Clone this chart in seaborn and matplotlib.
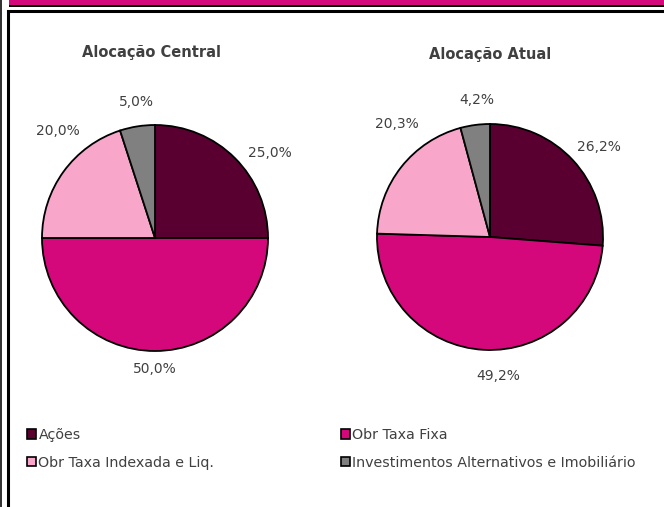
import matplotlib
matplotlib.use("Agg")
import matplotlib.pyplot as plt
import matplotlib.patches as mpatches
import seaborn as sns
import numpy as np

categories = ["Ações", "Obr Taxa Fixa", "Obr Taxa Indexada e Liq.", "Investimentos Alternativos e Imobiliário"]
central_values = [25.0, 50.0, 20.0, 5.0]
atual_values = [26.2, 49.2, 20.3, 4.2]
titles = ["Alocação Central", "Alocação Atual"]
colors = ["#5a0030", "#d4087a", "#f8a7cb", "#808080"]

# label placement (in pie-radius units), as laid out in the reference
central_label_pos = [(1.02, 0.75), (0.0, -1.16), (-0.86, 0.95), (-0.16, 1.20)]
atual_label_pos = [(0.96, 0.80), (0.07, -1.23), (-0.82, 1.00), (-0.12, 1.21)]

sns.set_theme(style="white")
plt.rcParams['font.family'] = ['DejaVu Sans']

W, H = 664, 507
fig = plt.figure(figsize=(W / 100, H / 100), dpi=100)
fig.patch.set_facecolor("white")

def px(x, y):
    return x / W, 1 - y / H

# frame decorations
fig.patches.append(mpatches.Rectangle((9 / W, 1 - 5 / H), 1, 5 / H, transform=fig.transFigure,
                                      facecolor="#d4087a", edgecolor="none"))
fig.patches.append(mpatches.Rectangle((9 / W, 1 - 7 / H), 1, 2 / H, transform=fig.transFigure,
                                      facecolor="black", edgecolor="none"))
fig.patches.append(mpatches.Rectangle((8 / W, -0.1), 1.2, 1 - 11 / H + 0.1, transform=fig.transFigure,
                                      facecolor="none", edgecolor="black", linewidth=2.2))
fig.patches.append(mpatches.Rectangle((0, 0), 1.5 / W, 1, transform=fig.transFigure,
                                      facecolor="#333333", edgecolor="none"))

text_color = "#404040"
half = 1.3
R = 113
size = 2 * half * R
centers = [(155, 238), (490, 237)]
title_pos = [(152, 53), (490, 55)]

for vals, (cx, cy), title, tp, lpos in zip([central_values, atual_values], centers, titles,
                                           title_pos, [central_label_pos, atual_label_pos]):
    ax = fig.add_axes([(cx - size / 2) / W, (H - cy - size / 2) / H, size / W, size / H])
    wedges, texts, autotexts = ax.pie(
        vals, colors=colors, startangle=90, counterclock=False,
        wedgeprops=dict(edgecolor="black", linewidth=1.3),
        autopct=lambda p: f"{p:.1f}".replace(".", ",") + "%", pctdistance=1.22,
        textprops=dict(color=text_color, fontsize=10))
    for t, v, pos in zip(autotexts, vals, lpos):
        t.set_text(f"{v:.1f}".replace(".", ",") + "%")
        t.set_position(pos)
    ax.set_xlim(-half, half)
    ax.set_ylim(-half, half)
    ax.set_aspect("equal")
    ax.axis("off")
    fig.text(*px(*tp), title, ha="center", va="center", fontsize=10.5, fontweight="bold", color=text_color)

handles = [mpatches.Patch(facecolor=c, edgecolor="black", linewidth=1.2) for c in colors]
for idxs, x in [([0, 2], 17), ([1, 3], 331)]:
    leg = fig.legend([handles[i] for i in idxs], [categories[i] for i in idxs],
                     loc="upper left", bbox_to_anchor=px(x, 418), frameon=False,
                     fontsize=10.3, handlelength=0.6, handleheight=0.6, handletextpad=0.2,
                     labelspacing=0.95, borderpad=0.2)
    for t in leg.get_texts():
        t.set_color(text_color)

fig.savefig("out.png", dpi=100)
